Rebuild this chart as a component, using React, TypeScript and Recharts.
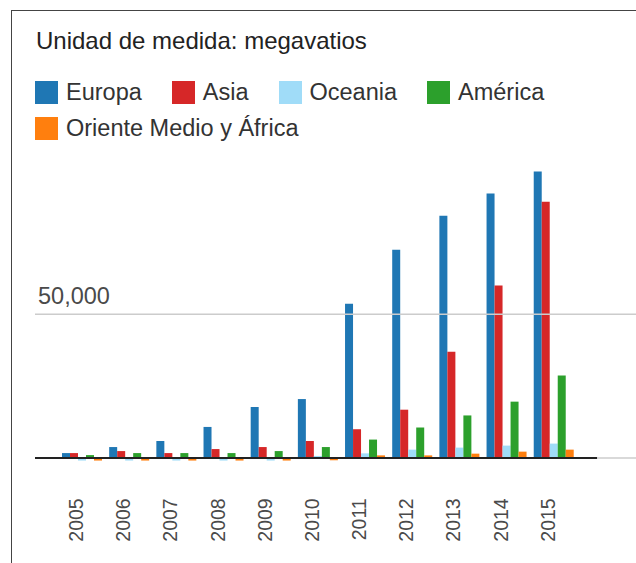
import { BarChart, Bar, XAxis, YAxis, Legend, ReferenceLine } from "recharts";

const YEARS = ["2005", "2006", "2007", "2008", "2009", "2010", "2011", "2012", "2013", "2014", "2015"];

// megawatts per region and year (small negatives are drawn just below the baseline in the original)
const EUROPA = [1700, 3800, 5900, 10800, 17700, 20500, 53700, 72500, 84300, 92000, 99700];
const ASIA = [1700, 2400, 1700, 3100, 3800, 5900, 10000, 16800, 37000, 60000, 89200];
const OCEANIA = [-900, -900, -900, -900, -900, 700, 1600, 2900, 3600, 4300, 5000];
const AMERICA = [1000, 1700, 1700, 1700, 2400, 3800, 6400, 10600, 14800, 19600, 28700];
const ORIENTE = [-900, -900, -900, -900, -900, -800, 900, 900, 1500, 2200, 2900];

const GRID_VALUE = 50000;
const Y_DOMAIN = [-10000, 110000];

const SERIES = [
  { key: "europa", name: "Europa", color: "#1f77b4", values: EUROPA },
  { key: "asia", name: "Asia", color: "#d62728", values: ASIA },
  { key: "oceania", name: "Oceania", color: "#a0dcf8", values: OCEANIA },
  { key: "america", name: "América", color: "#2ca02c", values: AMERICA },
  { key: "oriente", name: "Oriente Medio y África", color: "#ff7f0e", values: ORIENTE },
];

const data = YEARS.map((year, i) => {
  const row: Record<string, string | number> = { year };
  SERIES.forEach((s) => {
    row[s.key] = s.values[i];
  });
  return row;
});

const FONT = "'Liberation Sans', Arial, sans-serif";
const BASE_END = 0.929; // share of the plot width where the dark baseline stops

const YearTick = ({ x, y, payload }: any) => (
  <text
    transform={`translate(${x - 5.5},${y}) rotate(-90)`}
    textAnchor="end"
    dy="0.355em"
    fontSize={19.5}
    fontFamily={FONT}
    fill="#4a4a4a"
  >
    {payload.value}
  </text>
);

const GridLabel = ({ viewBox }: any) => (
  <text x={viewBox.x + 3} y={viewBox.y - 10} textAnchor="start" fontSize={23.5} fontFamily={FONT} fill="#4a4a4a">
    {GRID_VALUE.toLocaleString("en-US")}
  </text>
);

// legend keeps the series order (recharts would sort it by name)
const renderLegend = () => (
  <div style={{ display: "flex", flexWrap: "wrap", rowGap: 12.7, fontFamily: FONT }}>
    {SERIES.map((s) => (
      <div key={s.key} style={{ display: "flex", alignItems: "center", height: 23, marginRight: 30 }}>
        <span style={{ width: 23, height: 23, background: s.color, marginRight: 8, display: "inline-block" }} />
        <span style={{ fontSize: 23.5, lineHeight: "23px", color: "#333", whiteSpace: "nowrap" }}>{s.name}</span>
      </div>
    ))}
  </div>
);

export default function App() {
  return (
    <div style={{ position: "fixed", left: 0, top: 0, width: 636, height: 563, overflow: "hidden", background: "#fff" }}>
      <div
        style={{
          position: "absolute",
          left: 11,
          top: 10,
          width: 700,
          height: 600,
          border: "1.5px solid #444",
        }}
      />
      <div
        style={{
          position: "absolute",
          left: 36,
          top: 29,
          fontFamily: FONT,
          fontSize: 24,
          lineHeight: "24px",
          color: "#222",
          whiteSpace: "nowrap",
        }}
      >
        Unidad de medida: megavatios
      </div>
      <div style={{ position: "absolute", left: 0, top: 0 }}>
        <BarChart
          width={640}
          height={563}
          data={data}
          margin={{ top: 141.9, right: 0, bottom: 0, left: 35 }}
          barSize={8}
          barGap={0}
        >
          <XAxis
            dataKey="year"
            height={76.3}
            padding={{ left: 23, right: 63.1 }}
            axisLine={false}
            tickLine={false}
            tickSize={0}
            tickMargin={11.6}
            interval={0}
            tick={<YearTick />}
          />
          <YAxis hide domain={Y_DOMAIN} />
          <Legend
            verticalAlign="middle"
            align="center"
            content={renderLegend}
            wrapperStyle={{ top: 81, left: 35, width: 580 }}
          />
          <ReferenceLine y={GRID_VALUE} stroke="#cccccc" strokeWidth={1.5} label={<GridLabel />} />
          <ReferenceLine y={0} stroke="#cccccc" strokeWidth={1.5} />
          {SERIES.map((s) => (
            <Bar key={s.key} dataKey={s.key} name={s.name} fill={s.color} isAnimationActive={false} />
          ))}
          <ReferenceLine
            y={0}
            shape={(p: any) => (
              <line
                x1={p.x1}
                y1={p.y1}
                x2={p.x1 + (p.x2 - p.x1) * BASE_END}
                y2={p.y2}
                stroke="#222"
                strokeWidth={2}
              />
            )}
          />
        </BarChart>
      </div>
    </div>
  );
}
